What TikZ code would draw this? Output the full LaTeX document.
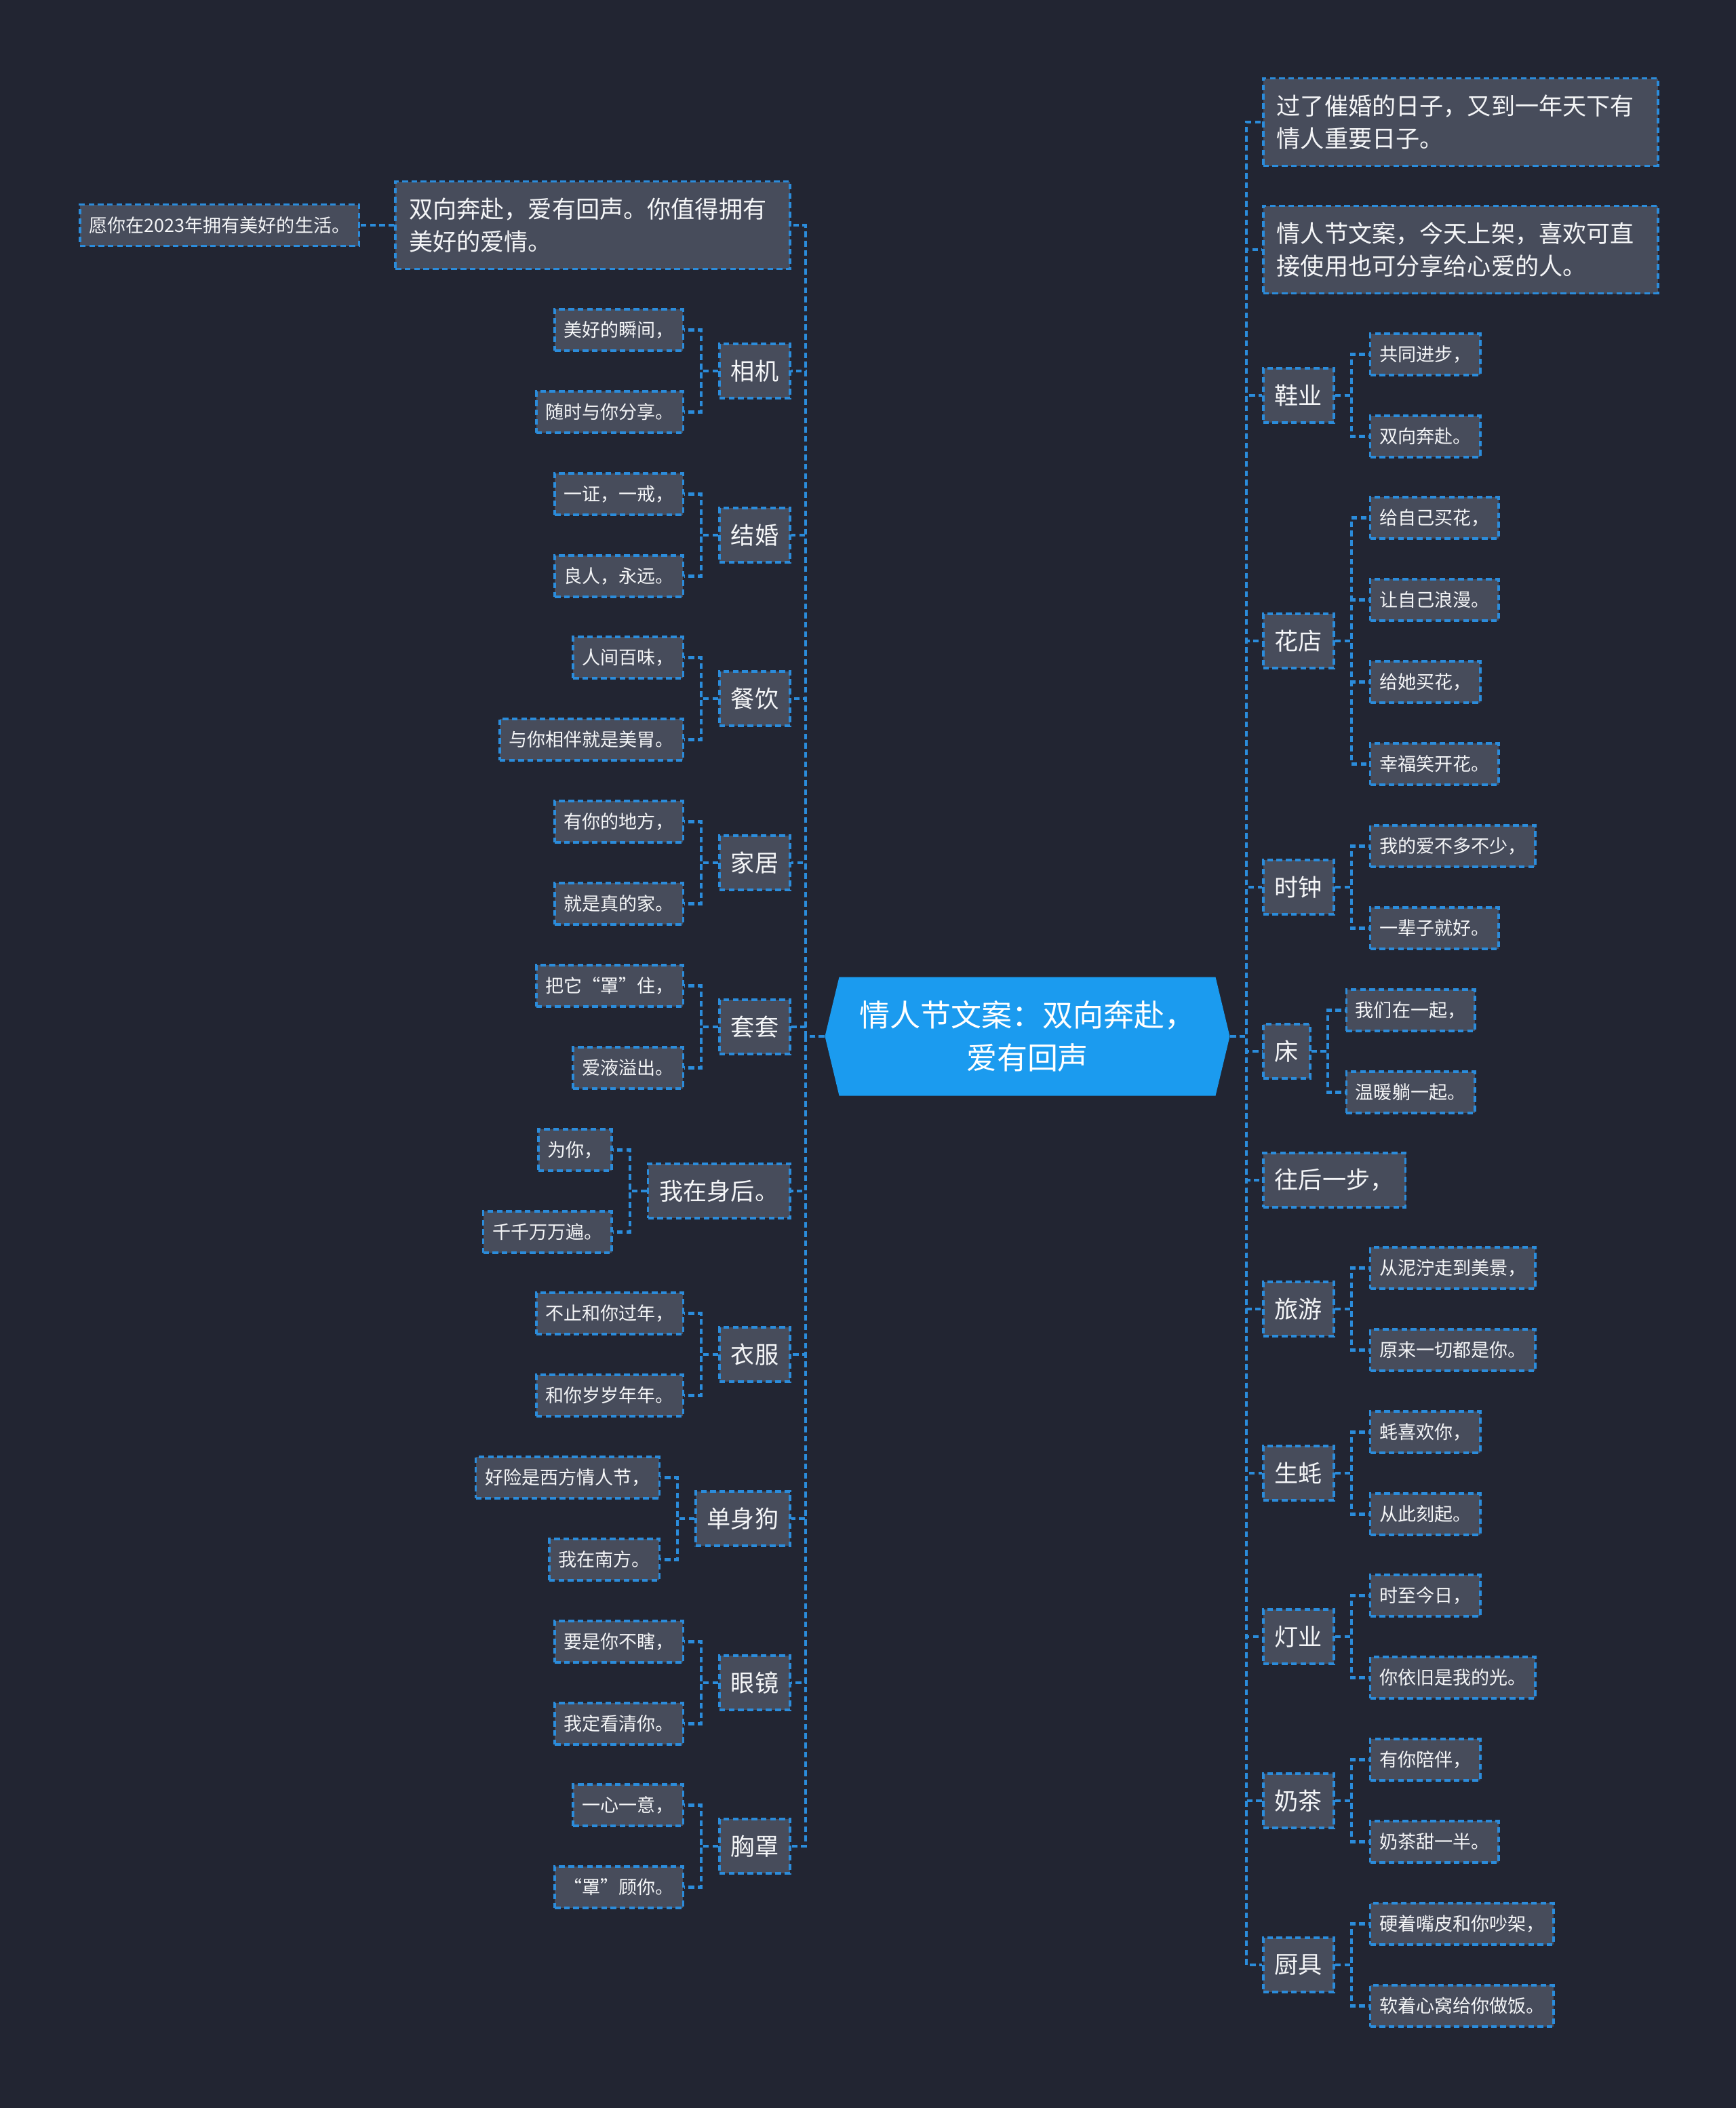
\documentclass[tikz,border=0pt]{standalone}
\usepackage{fontspec}
\setmainfont{Noto Sans CJK SC}
\usetikzlibrary{positioning,shapes.symbols}
\definecolor{bgdark}{HTML}{222532}
\definecolor{boxgray}{HTML}{474C5B}
\definecolor{linkblue}{HTML}{2B8CDB}
\definecolor{rootblue}{HTML}{1B9BEF}
\definecolor{textwhite}{HTML}{F4F5F7}

\begin{document}
\begin{tikzpicture}[
  font=\fontsize{10pt}{13.5pt}\selectfont,
  node distance=5mm,
  dashline/.style={dash pattern=on 2.4pt off 1.5pt},
  cat/.style={
    draw=linkblue,
    dashline,
    line width=1pt,
    fill=boxgray,
    text=textwhite,
    inner xsep=1.7mm,
    inner ysep=0pt,
    minimum height=8mm
  },
  leaf/.style={
    cat,
    font=\fontsize{7.7pt}{9pt}\selectfont,
    inner xsep=1.35mm,
    minimum height=6.1mm
  },
  note/.style={
    cat,
    text width=5.42cm,
    align=left,
    inner xsep=2mm,
    minimum height=12.9mm
  },
  root/.style={
    signal,
    signal to=west and east,
    signal pointer angle=153,
    fill=rootblue,
    text=white,
    align=center,
    font=\fontsize{12.8pt}{18pt}\selectfont,
    minimum width=5.97cm,
    minimum height=1.75cm
  },
  link/.style={draw=linkblue,line width=1.2pt,dashline}
]

% canvas
\fill[bgdark] (0,0) rectangle (25.6,-31.08);
\useasboundingbox (0,0) rectangle (25.6,-31.08);

% 1. Root
\node[root] (root) at (15.15,-15.28) {情人节文案：双向奔赴，\\爱有回声};

% 2. Left branches
\node[note,anchor=east] (lovenote) at (11.67,-3.32) {双向奔赴，爱有回声。你值得拥有\\美好的爱情。};
\node[leaf,left=of lovenote] (wishnote) {愿你在2023年拥有美好的生活。};

\node[cat,anchor=east] (camera) at (11.67,-5.47) {相机};
\node[leaf,left=of camera,yshift=6.05mm] (camera1) {美好的瞬间，};
\node[leaf,left=of camera,yshift=-6.05mm] (camera2) {随时与你分享。};

\node[cat,anchor=east] (wedding) at (11.67,-7.89) {结婚};
\node[leaf,left=of wedding,yshift=6.05mm] (wedding1) {一证，一戒，};
\node[leaf,left=of wedding,yshift=-6.05mm] (wedding2) {良人，永远。};

\node[cat,anchor=east] (dining) at (11.67,-10.30) {餐饮};
\node[leaf,left=of dining,yshift=6.05mm] (dining1) {人间百味，};
\node[leaf,left=of dining,yshift=-6.05mm] (dining2) {与你相伴就是美胃。};

\node[cat,anchor=east] (home) at (11.67,-12.72) {家居};
\node[leaf,left=of home,yshift=6.05mm] (home1) {有你的地方，};
\node[leaf,left=of home,yshift=-6.05mm] (home2) {就是真的家。};

\node[cat,anchor=east] (protect) at (11.67,-15.14) {套套};
\node[leaf,left=of protect,yshift=6.05mm] (protect1) {把它“罩”住，};
\node[leaf,left=of protect,yshift=-6.05mm] (protect2) {爱液溢出。};

\node[cat,anchor=east] (behind) at (11.67,-17.56) {我在身后。};
\node[leaf,left=of behind,yshift=6.05mm] (behind1) {为你，};
\node[leaf,left=of behind,yshift=-6.05mm] (behind2) {千千万万遍。};

\node[cat,anchor=east] (clothes) at (11.67,-19.97) {衣服};
\node[leaf,left=of clothes,yshift=6.05mm] (clothes1) {不止和你过年，};
\node[leaf,left=of clothes,yshift=-6.05mm] (clothes2) {和你岁岁年年。};

\node[cat,anchor=east] (single) at (11.67,-22.39) {单身狗};
\node[leaf,left=of single,yshift=6.05mm] (single1) {好险是西方情人节，};
\node[leaf,left=of single,yshift=-6.05mm] (single2) {我在南方。};

\node[cat,anchor=east] (glasses) at (11.67,-24.81) {眼镜};
\node[leaf,left=of glasses,yshift=6.05mm] (glasses1) {要是你不瞎，};
\node[leaf,left=of glasses,yshift=-6.05mm] (glasses2) {我定看清你。};

\node[cat,anchor=east] (bra) at (11.67,-27.22) {胸罩};
\node[leaf,left=of bra,yshift=6.05mm] (bra1) {一心一意，};
\node[leaf,left=of bra,yshift=-6.05mm] (bra2) {“罩”顾你。};

% 3. Right branches
\node[note,anchor=west] (remarka) at (18.61,-1.80) {过了催婚的日子，又到一年天下有\\情人重要日子。};
\node[note,anchor=west] (remarkb) at (18.61,-3.68) {情人节文案，今天上架，喜欢可直\\接使用也可分享给心爱的人。};

\node[cat,anchor=west] (shoes) at (18.61,-5.83) {鞋业};
\node[leaf,right=of shoes,yshift=6.05mm] (shoes1) {共同进步，};
\node[leaf,right=of shoes,yshift=-6.05mm] (shoes2) {双向奔赴。};

\node[cat,anchor=west] (florist) at (18.61,-9.45) {花店};
\node[leaf,right=of florist,yshift=18.15mm] (florist1) {给自己买花，};
\node[leaf,right=of florist,yshift=6.05mm] (florist2) {让自己浪漫。};
\node[leaf,right=of florist,yshift=-6.05mm] (florist3) {给她买花，};
\node[leaf,right=of florist,yshift=-18.15mm] (florist4) {幸福笑开花。};

\node[cat,anchor=west] (clock) at (18.61,-13.08) {时钟};
\node[leaf,right=of clock,yshift=6.05mm] (clock1) {我的爱不多不少，};
\node[leaf,right=of clock,yshift=-6.05mm] (clock2) {一辈子就好。};

\node[cat,anchor=west] (bed) at (18.61,-15.50) {床};
\node[leaf,right=of bed,yshift=6.05mm] (bed1) {我们在一起，};
\node[leaf,right=of bed,yshift=-6.05mm] (bed2) {温暖躺一起。};

\node[cat,anchor=west] (stepback) at (18.61,-17.40) {往后一步，};

\node[cat,anchor=west] (travel) at (18.61,-19.30) {旅游};
\node[leaf,right=of travel,yshift=6.05mm] (travel1) {从泥泞走到美景，};
\node[leaf,right=of travel,yshift=-6.05mm] (travel2) {原来一切都是你。};

\node[cat,anchor=west] (oyster) at (18.61,-21.72) {生蚝};
\node[leaf,right=of oyster,yshift=6.05mm] (oyster1) {蚝喜欢你，};
\node[leaf,right=of oyster,yshift=-6.05mm] (oyster2) {从此刻起。};

\node[cat,anchor=west] (lamp) at (18.61,-24.13) {灯业};
\node[leaf,right=of lamp,yshift=6.05mm] (lamp1) {时至今日，};
\node[leaf,right=of lamp,yshift=-6.05mm] (lamp2) {你依旧是我的光。};

\node[cat,anchor=west] (milktea) at (18.61,-26.55) {奶茶};
\node[leaf,right=of milktea,yshift=6.05mm] (milktea1) {有你陪伴，};
\node[leaf,right=of milktea,yshift=-6.05mm] (milktea2) {奶茶甜一半。};

\node[cat,anchor=west] (kitchen) at (18.61,-28.97) {厨具};
\node[leaf,right=of kitchen,yshift=6.05mm] (kitchen1) {硬着嘴皮和你吵架，};
\node[leaf,right=of kitchen,yshift=-6.05mm] (kitchen2) {软着心窝给你做饭。};

% Connections
\foreach \c in {lovenote,camera,wedding,dining,home,protect,behind,clothes,single,glasses,bra}
  \draw[link] (root.west) -- ++(-0.28,0) |- (\c.east);
\foreach \c in {remarka,remarkb,shoes,florist,clock,bed,stepback,travel,oyster,lamp,milktea,kitchen}
  \draw[link] (root.east) -- ++(0.24,0) |- (\c.west);

\draw[link] (lovenote.west) -- (wishnote.east);
\foreach \c in {camera,wedding,dining,home,protect,behind,clothes,single,glasses,bra}
  \foreach \i in {1,2}
    \draw[link] (\c.west) -- ++(-0.25,0) |- (\c\i.east);
\foreach \c in {shoes,clock,bed,travel,oyster,lamp,milktea,kitchen}
  \foreach \i in {1,2}
    \draw[link] (\c.east) -- ++(0.24,0) |- (\c\i.west);
\foreach \i in {1,...,4}
  \draw[link] (florist.east) -- ++(0.24,0) |- (florist\i.west);

\end{tikzpicture}
\end{document}
